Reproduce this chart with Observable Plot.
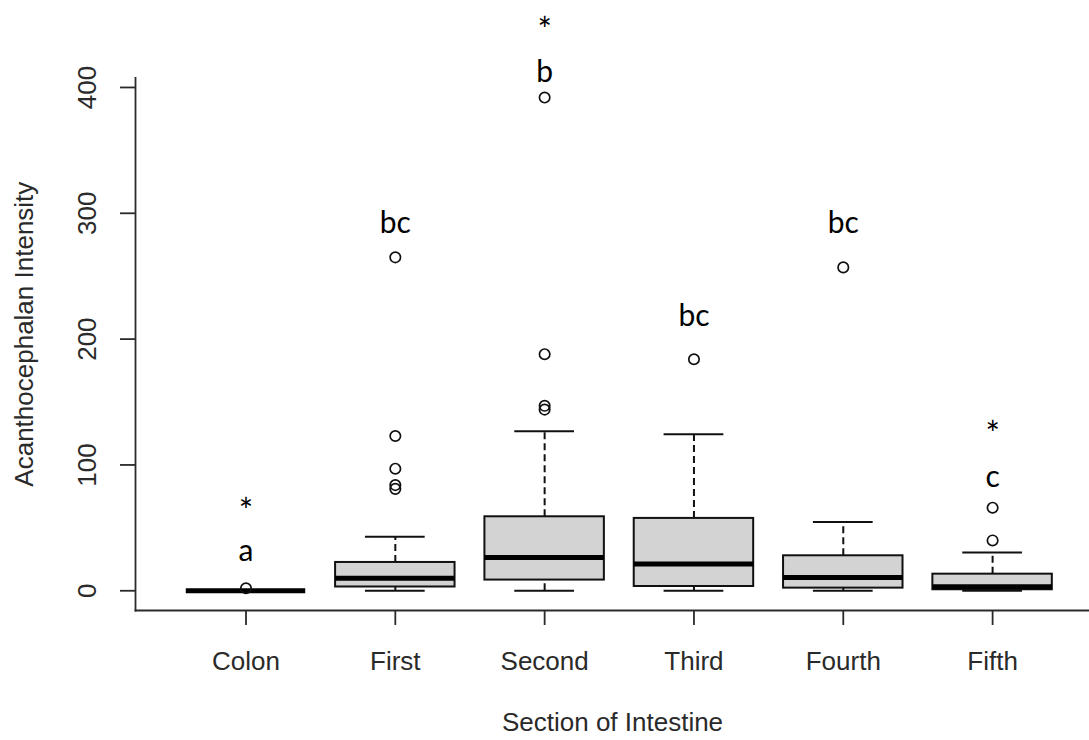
<!DOCTYPE html>
<html>
<head>
<meta charset="utf-8">
<script src="https://cdn.jsdelivr.net/npm/d3@7"></script>
<script src="https://cdn.jsdelivr.net/npm/@observablehq/plot@0.6"></script>
<style>
  html, body { margin: 0; padding: 0; background: #fff; }
  #chart svg { display: block; }
</style>
</head>
<body>
<div id="chart"></div>
<script>
// ---- data ----
const categories   = ["Colon", "First", "Second", "Third", "Fourth", "Fifth"];
const lowerWhisker = [0, 0, 0, 0, 0, 0];
const q1           = [0, 3, 8.5, 3.4, 2.1, 0.8];
const median       = [0, 10, 26.5, 21.2, 10.6, 3.2];
const q3           = [0, 22.5, 58.8, 57.5, 27.8, 13.2];
const upperWhisker = [0, 43, 126.7, 124.3, 54.6, 30.5];
const outliers     = [[2], [265, 123, 97, 84, 81], [392, 188, 147, 144], [184], [257], [66, 40]];

// significance letters (baseline value) and asterisks (top value)
const letterText   = ["a", "bc", "b", "bc", "bc", "c"];
const letterValue  = [23.3, 284.6, 404, 210.7, 284.6, 82.8];
const starCategory = ["Colon", "Second", "Fifth"];
const starValue    = [73.3, 455.4, 133.9];

const yTicks = [0, 100, 200, 300, 400];
const xTitle = "Section of Intestine";
const yTitle = "Acanthocephalan Intensity";

// ---- tables ----
const boxes = categories.map((c, i) => ({
  c, pos: i + 1,
  lo: lowerWhisker[i], q1: q1[i], med: median[i], q3: q3[i], hi: upperWhisker[i]
}));
const outRows = outliers.flatMap((vals, i) => vals.map(v => ({pos: i + 1, v})));
const letters = letterText.map((t, i) => ({pos: i + 1, t, v: letterValue[i]}));
const stars = starCategory.map((c, i) => ({pos: categories.indexOf(c) + 1, v: starValue[i]}));

// R-style axis limits: 4% extension of the data range
const n = categories.length;
const xlim = [0.5 - 0.04 * n, n + 0.5 + 0.04 * n];
const allVals = [...lowerWhisker, ...upperWhisker, ...outliers.flat()];
const dmin = d3.min(allVals), dmax = d3.max(allVals);
const ext = (dmax - dmin) * 0.04;
const ylim = [dmin - ext, dmax + ext];

const ink = "#111";
const axisInk = "#2a2a2a";

const chart = Plot.plot({
  width: 1089,
  height: 740,
  marginLeft: 135,
  marginRight: 0,
  marginTop: 77.3,
  marginBottom: 130,
  style: {fontFamily: "'Liberation Sans', Arial, sans-serif", fontSize: "26px", background: "#fff"},
  x: {domain: xlim, range: [135, 1102.6]},
  y: {domain: ylim},
  marks: [
    // whiskers (dashed)
    Plot.ruleX(boxes, {x: "pos", y1: "q3", y2: "hi", stroke: ink, strokeWidth: 2, strokeDasharray: "7,4"}),
    Plot.ruleX(boxes, {x: "pos", y1: "lo", y2: "q1", stroke: ink, strokeWidth: 2, strokeDasharray: "7,4"}),
    // staples
    Plot.ruleY(boxes, {y: "hi", x1: d => d.pos - 0.2, x2: d => d.pos + 0.2, stroke: ink, strokeWidth: 2}),
    Plot.ruleY(boxes, {y: "lo", x1: d => d.pos - 0.2, x2: d => d.pos + 0.2, stroke: ink, strokeWidth: 2}),
    // boxes
    Plot.rect(boxes, {x1: d => d.pos - 0.4, x2: d => d.pos + 0.4, y1: "q1", y2: "q3", fill: "#d3d3d3", stroke: ink, strokeWidth: 2}),
    // medians
    Plot.ruleY(boxes, {y: "med", x1: d => d.pos - 0.4, x2: d => d.pos + 0.4, stroke: "#000", strokeWidth: 5}),
    // outliers
    Plot.dot(outRows, {x: "pos", y: "v", r: 5.2, stroke: ink, strokeWidth: 1.7, fill: "none"}),
    // frame lines (bty = "l")
    Plot.frame({anchor: "left", stroke: axisInk, strokeWidth: 1.8}),
    Plot.frame({anchor: "bottom", stroke: axisInk, strokeWidth: 1.8}),
    // axes
    Plot.axisX({ticks: d3.range(1, n + 1), tickFormat: i => categories[i - 1], tickSize: 15, tickPadding: 26,
                label: null, color: axisInk, strokeWidth: 1.8, fontSize: 26}),
    Plot.axisY({ticks: yTicks, tickFormat: d => d, tickSize: 15, tickPadding: 25, tickRotate: -90,
                label: null, color: axisInk, strokeWidth: 1.8, fontSize: 26}),
    // axis titles
    Plot.text([xTitle], {frameAnchor: "bottom", dy: 120, lineAnchor: "bottom", textAnchor: "middle", fill: axisInk, fontSize: 26}),
    Plot.text([yTitle], {frameAnchor: "left", dx: -103, dy: -10, rotate: -90, lineAnchor: "bottom", textAnchor: "middle", fill: axisInk, fontSize: 26}),
    // significance letters and asterisks
    Plot.text(letters, {x: "pos", y: "v", text: "t", lineAnchor: "bottom", fontFamily: "Lato, 'Open Sans', sans-serif", fontSize: 30, fill: "#000"}),
    Plot.text(stars, {x: "pos", y: "v", text: d => "*", lineAnchor: "top", fontFamily: "Lato, 'Open Sans', sans-serif", fontSize: 34, fill: "#000"})
  ]
});

document.getElementById("chart").appendChild(chart);
</script>
</body>
</html>
